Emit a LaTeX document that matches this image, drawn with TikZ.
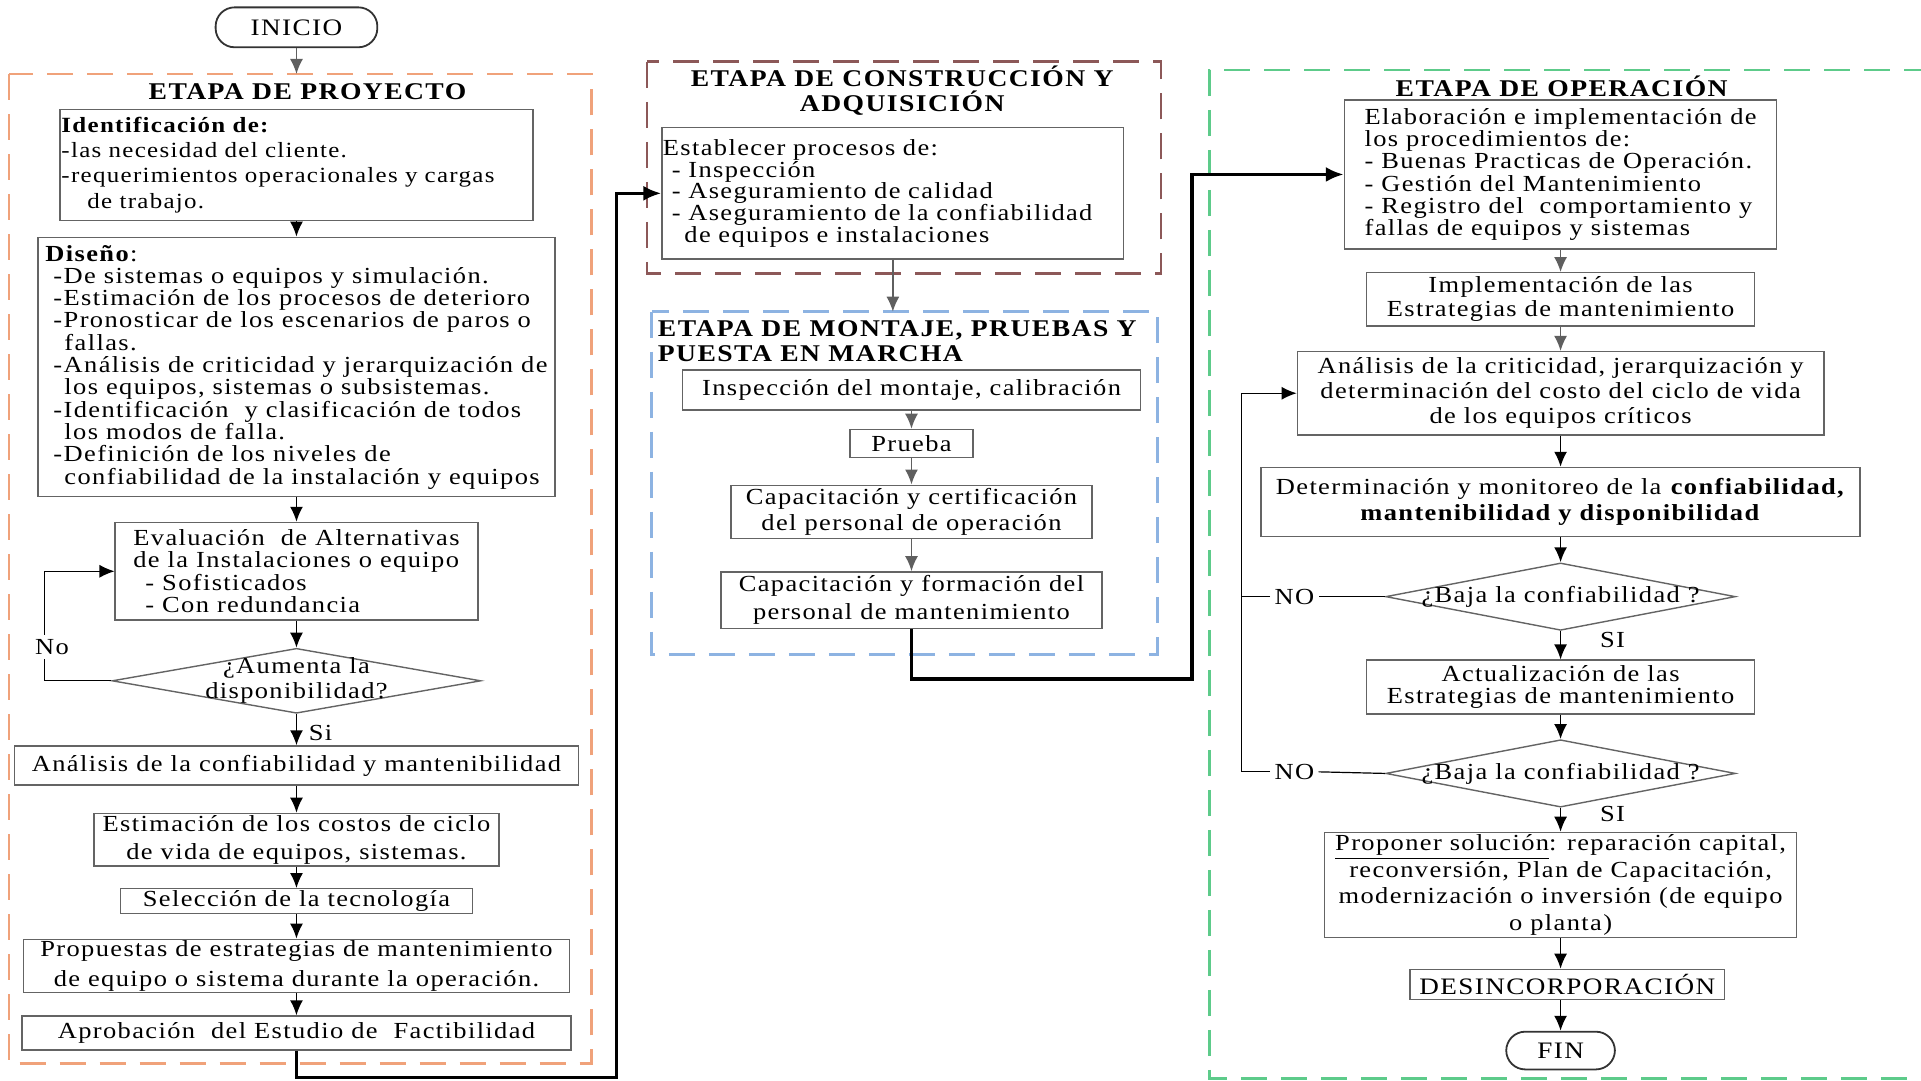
\documentclass[tikz,border=0pt]{standalone}
\usepackage{fontspec}
\setmainfont{Liberation Serif}[FakeStretch=1.15,LetterSpace=6]
\usetikzlibrary{shapes.geometric,arrows.meta}

\definecolor{cajagris}{RGB}{100,100,100}
\definecolor{flechagris}{RGB}{95,95,95}
\definecolor{naranja}{RGB}{240,162,122}
\definecolor{marron}{RGB}{140,88,88}
\definecolor{azul}{RGB}{141,179,226}
\definecolor{verde}{RGB}{93,203,138}

\newcommand{\pxu}{0.6125pt}
\newcommand{\cuerpo}[2][11.5]{\fontsize{#1}{#2}\selectfont\lineskiplimit=-20pt\relax}

\begin{document}
\begin{tikzpicture}[x=0.6125pt, y=-0.6125pt,
    every node/.style={font=\cuerpo{12.5}, inner sep=0pt},
    tam/.style 2 args={minimum width=#1*\pxu, minimum height=#2*\pxu},
    caja/.style={draw=cajagris, line width=0.7pt, fill=white, align=center},
    decision/.style={diamond, draw=cajagris, line width=0.7pt, fill=white},
    terminal/.style={draw=black!80, line width=0.9pt, rounded corners=9.5pt, font={\cuerpo[11.8]{12.5}}},
    titulo/.style={font=\fontsize{12}{12.5}\selectfont\bfseries, align=center},
    etiqueta/.style={inner sep=2pt},
    etapa/.style={line width=1.3pt, dash pattern=on 13pt off 7pt},
    flecha/.style={thick, -{Latex[length=7.5pt,width=6.5pt]}},
    enlace/.style={line width=1.8pt, -{Latex[length=9pt,width=7.5pt]}}]

\useasboundingbox (0,0) rectangle (1568,882);

% marcos de las etapas
\draw[etapa, naranja] (7.3,60.4) rectangle (483,868);
\draw[etapa, marron] (528,50.4) rectangle (947.7,223.2);
\draw[etapa, azul] (531.8,254.4) rectangle (944.8,534.2);
\draw[etapa, verde] (1575,57.1) -- (987.1,57.1) -- (987.1,880.2) -- (1575,880.2);

% etapa de proyecto
\node[terminal, tam={132}{32.6}] (inicio) at (242,22.3) {INICIO};
\coordinate (entradaproyecto) at (242,60.4);
\node[titulo] (tproyecto) at (251,74.8) {ETAPA DE PROYECTO};
\node[caja, align=left, text width=235pt, tam={386}{90.4}, font={\cuerpo[10.85]{12.7}}] (identifica) at (242,134.6)
  {\textbf{Identificación de:}\\-las necesidad del cliente.\\-requerimientos operacionales y cargas\\\hspace*{13pt}de trabajo.};
\node[caja, align=left, tam={422}{211.8}, font={\cuerpo{11.15}}] (diseno) at (242,299.6)
  {\textbf{Diseño}:\\
   \hspace*{4pt}-De sistemas o equipos y simulación.\\
   \hspace*{4pt}-Estimación de los procesos de deterioro\\
   \hspace*{4pt}-Pronosticar de los escenarios de paros o\\
   \hspace*{9.5pt}fallas.\\
   \hspace*{4pt}-Análisis de criticidad y jerarquización de\\
   \hspace*{9.5pt}los equipos, sistemas o subsistemas.\\
   \hspace*{4pt}-Identificación \ y clasificación de todos\\
   \hspace*{9.5pt}los modos de falla.\\
   \hspace*{4pt}-Definición de los niveles de\\
   \hspace*{9.5pt}confiabilidad de la instalación y equipos};
\node[caja, align=left, tam={296}{79.7}, font={\cuerpo{11.2}}] (evalua) at (242,466.3)
  {Evaluación \ de Alternativas\\de la Instalaciones o equipo\\\hspace*{6pt}- Sofisticados\\\hspace*{6pt}- Con redundancia};
\node[decision, tam={301}{53},
  label={[align=center]center:{¿Aumenta la\\disponibilidad?}}] (aumenta) at (242,555.7) {};
\node[caja, tam={460}{32}] (analisis) at (242,624.9) {Análisis de la confiabilidad y mantenibilidad};
\node[caja, tam={330.6}{43}, font={\cuerpo{13.8}}] (estima) at (242,685.4)
  {Estimación de los costos de ciclo\\de vida de equipos, sistemas.};
\node[caja, tam={287.4}{20.1}] (selecciona) at (242,735.5) {Selección de la tecnología};
\node[caja, tam={445.3}{43.6}, font={\cuerpo{14.6}}] (propuesta) at (242,788.5)
  {Propuestas de estrategias de mantenimiento\\de equipo o sistema durante la operación.};
\node[caja, tam={448.3}{27.8}] (aprueba) at (242,843.2) {Aprobación \ del Estudio de \ Factibilidad};
\node[etiqueta] (si) at (261.7,598.6) {Si};

\draw[flecha, flechagris] (inicio) -- (entradaproyecto);
\draw[flecha] (identifica) -- (diseno);
\draw[flecha] (diseno) -- (evalua);
\draw[flecha] (evalua) -- (aumenta);
\draw[flecha] (aumenta) -- (analisis);
\draw[flecha] (analisis) -- (estima);
\draw[flecha] (estima) -- (selecciona);
\draw[flecha] (selecciona) -- (propuesta);
\draw[flecha] (propuesta) -- (aprueba);
\draw[flecha, semithick] (aumenta.west) -- ++(-54.4,0) |- (evalua.west);
\node[etiqueta, fill=white] (no) at (42.5,528) {No};

% etapa de construccion y adquisicion
\node[titulo] (tconstruccion) at (736.4,74.2) {ETAPA DE CONSTRUCCIÓN Y\\ADQUISICIÓN};
\node[caja, align=left, text width=230pt, tam={376.6}{107.5}, font={\cuerpo{10.9}}] (establece) at (728.8,157.8)
  {Establecer procesos de:\\\hspace*{4.5pt}- Inspección\\\hspace*{4.5pt}- Aseguramiento de calidad\\\hspace*{4.5pt}- Aseguramiento de la confiabilidad\\\hspace*{10.8pt}de equipos e instalaciones};
\coordinate (entradamontaje) at (728.8,254.4);

% etapa de montaje, pruebas y puesta en marcha
\node[titulo, align=left, anchor=west] (tmontaje) at (536.7,278.2) {ETAPA DE MONTAJE, PRUEBAS Y\\PUESTA EN MARCHA};
\node[caja, tam={374}{32.7}] (inspecciona) at (744,318.4) {Inspección del montaje, calibración};
\node[caja, tam={100.6}{22.8}] (prueba) at (744,361.9) {Prueba};
\node[caja, tam={294.4}{43.5}, font={\cuerpo{12.9}}] (certifica) at (744,417.8)
  {Capacitación y certificación\\del personal de operación};
\node[caja, tam={310.7}{46.3}, font={\cuerpo{14.1}}] (forma) at (744,489.9)
  {Capacitación y formación del\\personal de mantenimiento};

\draw[enlace] (aprueba.south) -- ++(0,21.7) -- ++(261.3,0) |- (establece.west);
\draw[flecha, flechagris] (establece) -- (entradamontaje);
\draw[flecha, flechagris] (inspecciona) -- (prueba);
\draw[flecha, flechagris] (prueba) -- (certifica);
\draw[flecha, flechagris] (certifica) -- (forma);

% etapa de operacion
\node[titulo] (toperacion) at (1274.7,70.7) {ETAPA DE OPERACIÓN};
\node[caja, align=left, tam={352.6}{121.6}, font={\cuerpo{11.15}}] (elabora) at (1273.8,142.4)
  {Elaboración e implementación de\\los procedimientos de:\\- Buenas Practicas de Operación.\\- Gestión del Mantenimiento\\- Registro del \ comportamiento y\\fallas de equipos y sistemas};
\node[caja, tam={316.4}{43.5}, font={\cuerpo{12}}] (implementa) at (1273.8,244.4)
  {Implementación de las\\Estrategias de mantenimiento};
\node[caja, tam={429.8}{68}, font={\cuerpo{12.5}}] (criticidad) at (1273.8,321)
  {Análisis de la criticidad, jerarquización y\\determinación del costo del ciclo de vida\\de los equipos críticos};
\node[caja, tam={488.8}{56.5}, font={\cuerpo{12.9}}] (determina) at (1273.8,409.8)
  {Determinación y monitoreo de la \textbf{confiabilidad,}\\\textbf{mantenibilidad y disponibilidad}};
\node[decision, tam={285.5}{55}, label={center:¿Baja la confiabilidad ?}] (baja1) at (1273.8,487) {};
\node[caja, tam={316.4}{44}, font={\cuerpo{11.15}}] (actualiza) at (1273.8,560.8)
  {Actualización de las\\Estrategias de mantenimiento};
\node[decision, tam={285.5}{55}, label={center:¿Baja la confiabilidad ?}] (baja2) at (1273.8,631.3) {};
\node[caja, tam={385}{85.7}, font={\cuerpo{13.4}}] (propone) at (1273.8,722.3)
  {\underline{Proponer solución}: reparación capital,\\reconversión, Plan de Capacitación,\\modernización o inversión (de equipo\\o planta)};
\node[caja, tam={256.6}{24.5}, font={\cuerpo[11.8]{12.5}}] (desincorpora) at (1279.3,803.5) {DESINCORPORACIÓN};
\node[terminal, tam={88.7}{30.8}] (fin) at (1273.8,857.5) {FIN};
\node[etiqueta] (no1) at (1056.5,487) {NO};
\node[etiqueta] (si1) at (1316.2,522.4) {SI};
\node[etiqueta] (no2) at (1056.5,630) {NO};
\node[etiqueta] (si2) at (1316.2,664.4) {SI};
\coordinate (giro1) at (1013.4,487);
\coordinate (giro2) at (1013.4,630);

\draw[enlace] (forma.south) -- ++(0,40.7) -- ++(229,0) |- (elabora.west);
\draw[flecha, flechagris] (elabora) -- (implementa);
\draw[flecha, flechagris] (implementa) -- (criticidad);
\draw[flecha] (criticidad) -- (determina);
\draw[flecha] (determina) -- (baja1);
\draw[flecha] (baja1) -- (actualiza);
\draw[flecha] (actualiza) -- (baja2);
\draw[flecha] (baja2) -- (propone);
\draw[flecha] (propone.south) -- (propone.south |- desincorpora.north);
\draw[flecha] (desincorpora.south -| fin) -- (fin);
\draw[semithick] (baja1.west) -- (no1.east);
\draw[semithick] (no1.west) -- (giro1);
\draw[semithick] (baja2.west) -- (no2.east);
\draw[flecha, semithick] (no2.west) -- (giro2) |- (criticidad.west);
\end{tikzpicture}
\end{document}
